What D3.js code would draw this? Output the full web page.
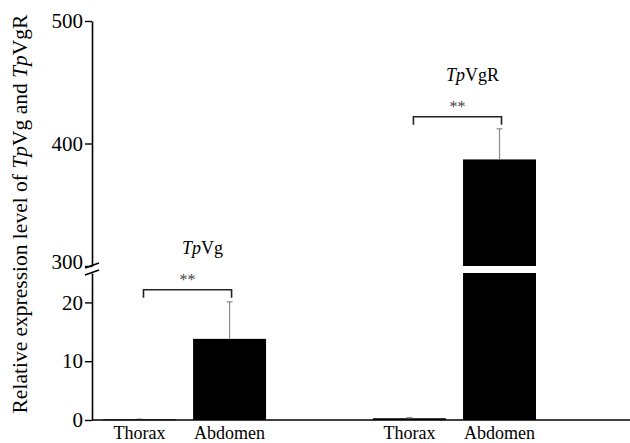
<!DOCTYPE html>
<html>
<head>
<meta charset="utf-8">
<script src="https://cdn.jsdelivr.net/npm/d3@7"></script>
<style>
  body { margin: 0; background: #fff; }
  svg text { font-family: "Liberation Serif", "Times New Roman", Times, serif !important; }
</style>
</head>
<body>
<svg id="chart" width="630" height="443"></svg>
<script>
// data
groups = ["TpVg", "TpVgR"]
tissues = ["Thorax", "Abdomen"]
vgMeans = [0.1, 13.8]
vgErrors = [0.05, 6.3]
vgrMeans = [0.3, 387]
vgrErrors = [0.1, 25]
lowTicks = [0, 10, 20]
highTicks = [300, 400, 500]

svg = d3.select("#chart")

// broken y axis: two linear pieces
yLow = d3.scaleLinear().domain([0, 25]).range([420, 273])
yHigh = d3.scaleLinear().domain([300, 500]).range([266, 21])
function y(v){
    if(v <= 25) return yLow(v)
    return yHigh(v)
}

xGroup = d3.scaleBand().domain(groups).range([103, 536]).paddingInner(0.396).paddingOuter(0)
xSub = d3.scaleBand().domain(tissues).range([0, xGroup.bandwidth()]).paddingInner(0.19).paddingOuter(0)

rows = []
groups.forEach(function(g, gi){
    means = gi == 0 ? vgMeans : vgrMeans
    errs = gi == 0 ? vgErrors : vgrErrors
    tissues.forEach(function(t, ti){
        rows.push({group: g, tissue: t, value: means[ti], err: errs[ti]})
    })
})

// bars (split into two pieces when the value crosses the break)
pieces = []
rows.forEach(function(d){
    if(d.value <= 25){
        pieces.push({d: d, lo: 0, hi: d.value})
    } else {
        pieces.push({d: d, lo: 0, hi: 25})
        pieces.push({d: d, lo: 300, hi: d.value})
    }
})

svg.selectAll("rect.bar")
    .data(pieces)
    .join("rect")
    .attr("class", "bar")
    .attr("x", p => xGroup(p.d.group) + xSub(p.d.tissue))
    .attr("width", xSub.bandwidth())
    .attr("y", p => y(p.hi))
    .attr("height", p => Math.max(0.8, y(p.lo) - y(p.hi)))
    .attr("fill", "#000")

// error bars
errG = svg.append("g").attr("stroke", "#8a8a8a").attr("stroke-width", 1.2)
rows.forEach(function(d){
    cx = xGroup(d.group) + xSub(d.tissue) + xSub.bandwidth()/2
    errG.append("line")
        .attr("x1", cx).attr("x2", cx)
        .attr("y1", y(d.value)).attr("y2", y(d.value + d.err))
    errG.append("line")
        .attr("x1", cx - 3).attr("x2", cx + 3)
        .attr("y1", y(d.value + d.err)).attr("y2", y(d.value + d.err))
})

// significance brackets and gene labels
groups.forEach(function(g){
    gr = rows.filter(r => r.group == g)
    xa = xGroup(g) + xSub(tissues[0]) + xSub.bandwidth()/2 + 4
    xb = xGroup(g) + xSub(tissues[1]) + xSub.bandwidth()/2 + 2
    by = y(d3.max(gr, r => r.value + r.err)) - 12
    svg.append("path")
        .attr("d", `M${xa},${by + 8}V${by}H${xb}V${by + 8}`)
        .attr("fill", "none")
        .attr("stroke", "#222")
        .attr("stroke-width", 1.6)
    svg.append("text")
        .attr("x", (xa + xb)/2)
        .attr("y", by - 5)
        .attr("text-anchor", "middle")
        .attr("font-size", 16)
        .attr("fill", "#444")
        .text("**")
    lab = svg.append("text")
        .attr("x", (xa + xb)/2 + 15)
        .attr("y", by - 36)
        .attr("text-anchor", "middle")
        .attr("font-size", 18)
    lab.append("tspan").attr("font-style", "italic").text("Tp")
    lab.append("tspan").text(g.slice(2))
})

// y axes
axLow = svg.append("g")
    .attr("transform", "translate(92,0)")
    .call(d3.axisLeft(yLow).tickValues(lowTicks).tickSize(7).tickSizeOuter(0))
axHigh = svg.append("g")
    .attr("transform", "translate(92,0)")
    .call(d3.axisLeft(yHigh).tickValues(highTicks).tickSize(7).tickSizeOuter(0))
svg.selectAll(".domain").attr("stroke", "#000").attr("stroke-width", 1.6)
svg.selectAll(".tick line").attr("stroke", "#000").attr("stroke-width", 1.4)
svg.selectAll(".tick text")
    .attr("font-size", 21)
    .attr("fill", "#000")
    .attr("x", -9)
axHigh.select(".tick text").attr("dy", "0.1em")

// axis break marks
brk = svg.append("g").attr("stroke", "#000").attr("stroke-width", 1.5)
brk.append("line").attr("x1", 85).attr("x2", 99).attr("y1", 268).attr("y2", 263)
brk.append("line").attr("x1", 85).attr("x2", 99).attr("y1", 275).attr("y2", 270)

// x baseline
svg.append("line")
    .attr("x1", 92).attr("x2", 630)
    .attr("y1", yLow(0)).attr("y2", yLow(0))
    .attr("stroke", "#000").attr("stroke-width", 1.6)

// category labels
svg.selectAll("text.cat")
    .data(rows)
    .join("text")
    .attr("class", "cat")
    .attr("x", d => xGroup(d.group) + xSub(d.tissue) + xSub.bandwidth()/2)
    .attr("y", 439)
    .attr("text-anchor", "middle")
    .attr("font-size", 18)
    .text(d => d.tissue)

// y title
yt = svg.append("text")
    .attr("transform", "translate(27,214) rotate(-90)")
    .attr("text-anchor", "middle")
    .attr("font-size", 21.5)
yt.append("tspan").text("Relative expression level of ")
yt.append("tspan").attr("font-style", "italic").text("Tp")
yt.append("tspan").text("Vg and ")
yt.append("tspan").attr("font-style", "italic").text("Tp")
yt.append("tspan").text("VgR")
</script>
</body>
</html>
